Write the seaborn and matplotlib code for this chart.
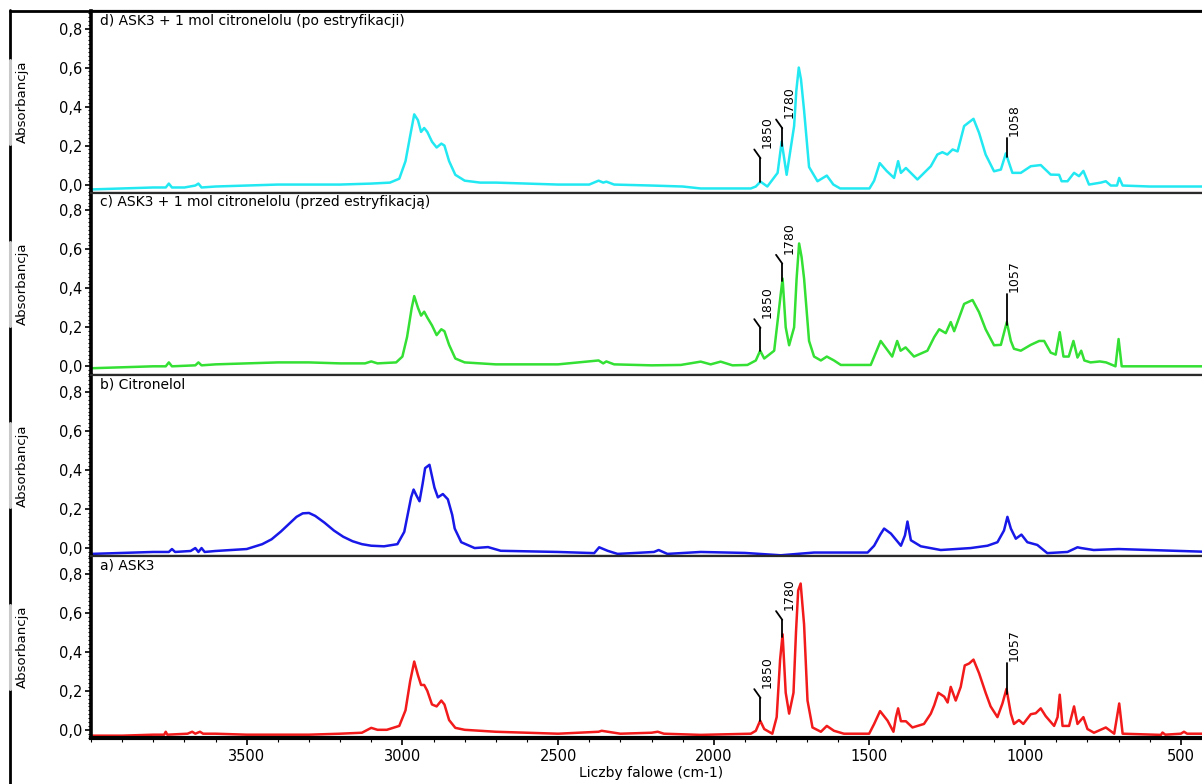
import numpy as np
import pandas as pd
import matplotlib
matplotlib.use("Agg")
import matplotlib.pyplot as plt
import seaborn as sns
from matplotlib.ticker import MultipleLocator, FuncFormatter
from matplotlib.lines import Line2D

sns.set_style("ticks")
plt.rcParams['font.family'] = ['DejaVu Sans']
plt.rcParams['text.color'] = 'black'
plt.rcParams['axes.labelcolor'] = 'black'
plt.rcParams['xtick.color'] = 'black'
plt.rcParams['ytick.color'] = 'black'

# ---------------- data (wavenumber cm-1, absorbance) ----------------
wn_d = [4000, 3900, 3800, 3760, 3750, 3740, 3700, 3665, 3655, 3645, 3600, 3500, 3400, 3300, 3200, 3100,
        3040, 3010, 2990, 2975, 2962, 2950, 2940, 2930, 2920, 2905, 2890, 2875, 2865, 2850, 2830, 2800,
        2750, 2700, 2600, 2500, 2400, 2370, 2355, 2345, 2320, 2200, 2100, 2042, 1881, 1865, 1850, 1828,
        1795, 1782, 1766, 1742, 1735, 1727, 1720, 1710, 1694, 1667, 1637, 1616, 1594, 1500, 1485, 1467,
        1445, 1421, 1408, 1399, 1383, 1346, 1303, 1282, 1266, 1250, 1233, 1217, 1196, 1180, 1166, 1148,
        1127, 1100, 1078, 1062, 1041, 1014, 982, 950, 918, 891, 883, 864, 843, 827, 813, 795, 757, 741,
        725, 705, 698, 687, 600, 500, 400]
ab_d = [-0.025, -0.02, -0.015, -0.015, 0.005, -0.015, -0.015, -0.005, 0.005, -0.015, -0.01, -0.005, 0.0,
        0.0, 0.0, 0.005, 0.01, 0.03, 0.12, 0.25, 0.36, 0.33, 0.27, 0.29, 0.27, 0.22, 0.19, 0.21, 0.2,
        0.12, 0.05, 0.02, 0.01, 0.01, 0.005, 0.0, 0.0, 0.02, 0.01, 0.015, 0.0, -0.005, -0.01, -0.02,
        -0.02, -0.01, 0.015, -0.01, 0.06, 0.22, 0.05, 0.30, 0.48, 0.60, 0.54, 0.38, 0.09, 0.017, 0.046,
        0.0, -0.02, -0.02, 0.02, 0.11, 0.07, 0.034, 0.12, 0.06, 0.085, 0.026, 0.094, 0.154, 0.166, 0.154,
        0.18, 0.17, 0.30, 0.32, 0.337, 0.265, 0.154, 0.068, 0.077, 0.16, 0.06, 0.06, 0.094, 0.1, 0.051,
        0.05, 0.017, 0.017, 0.06, 0.043, 0.07, 0.0, 0.01, 0.017, -0.005, -0.005, 0.034, -0.005, -0.01,
        -0.01, -0.01]

wn_c = [4000, 3900, 3800, 3760, 3750, 3740, 3665, 3655, 3645, 3600, 3500, 3400, 3300, 3200, 3120, 3100,
        3080, 3020, 3000, 2985, 2970, 2962, 2950, 2940, 2930, 2920, 2905, 2890, 2875, 2865, 2850, 2830,
        2800, 2700, 2500, 2370, 2355, 2345, 2320, 2200, 2106, 2042, 2010, 1978, 1940, 1892, 1865, 1851,
        1838, 1806, 1785, 1779, 1769, 1758, 1742, 1734, 1726, 1718, 1710, 1694, 1678, 1656, 1637, 1614,
        1592, 1496, 1464, 1427, 1411, 1400, 1384, 1357, 1314, 1292, 1276, 1255, 1239, 1228, 1196, 1169,
        1148, 1127, 1100, 1078, 1059, 1046, 1036, 1014, 982, 955, 939, 918, 902, 889, 877, 860, 845, 832,
        820, 810, 790, 760, 740, 710, 700, 690, 600, 500, 400]
ab_c = [-0.01, -0.005, 0.0, 0.0, 0.02, 0.0, 0.005, 0.02, 0.005, 0.01, 0.015, 0.02, 0.02, 0.015, 0.015,
        0.025, 0.015, 0.02, 0.05, 0.15, 0.30, 0.36, 0.30, 0.26, 0.28, 0.25, 0.21, 0.16, 0.19, 0.18, 0.11,
        0.04, 0.02, 0.01, 0.01, 0.03, 0.015, 0.025, 0.01, 0.005, 0.007, 0.024, 0.01, 0.024, 0.005, 0.007,
        0.03, 0.08, 0.04, 0.08, 0.37, 0.45, 0.20, 0.108, 0.20, 0.45, 0.63, 0.56, 0.45, 0.13, 0.05, 0.03,
        0.05, 0.03, 0.007, 0.007, 0.13, 0.05, 0.13, 0.08, 0.097, 0.05, 0.08, 0.15, 0.19, 0.17, 0.227,
        0.18, 0.32, 0.34, 0.277, 0.19, 0.108, 0.11, 0.227, 0.13, 0.09, 0.08, 0.11, 0.13, 0.13, 0.07,
        0.06, 0.175, 0.05, 0.05, 0.13, 0.045, 0.08, 0.03, 0.02, 0.025, 0.02, 0.0, 0.14, 0.0, 0.0, 0.0,
        0.0]

wn_b = [4000, 3900, 3800, 3750, 3740, 3730, 3680, 3665, 3655, 3645, 3635, 3600, 3550, 3500, 3470, 3450,
        3420, 3390, 3360, 3340, 3320, 3300, 3280, 3250, 3220, 3190, 3160, 3130, 3100, 3059, 3016, 2994,
        2972, 2964, 2955, 2945, 2935, 2927, 2913, 2897, 2886, 2870, 2854, 2840, 2832, 2811, 2768, 2725,
        2684, 2500, 2384, 2368, 2341, 2309, 2192, 2177, 2149, 2042, 1900, 1785, 1678, 1506, 1485, 1465,
        1453, 1431, 1399, 1386, 1378, 1367, 1335, 1271, 1175, 1121, 1089, 1068, 1057, 1046, 1030, 1012,
        993, 961, 929, 864, 832, 820, 780, 700, 600, 500, 400]
ab_b = [-0.03, -0.025, -0.02, -0.02, -0.005, -0.02, -0.015, 0.0, -0.02, 0.0, -0.02, -0.015, -0.01, -0.005,
        0.01, 0.02, 0.045, 0.085, 0.13, 0.16, 0.178, 0.18, 0.165, 0.13, 0.09, 0.058, 0.035, 0.02, 0.012,
        0.009, 0.02, 0.083, 0.26, 0.30, 0.27, 0.24, 0.33, 0.41, 0.427, 0.31, 0.26, 0.277, 0.25, 0.17,
        0.10, 0.03, 0.0, 0.005, -0.014, -0.02, -0.026, 0.004, -0.014, -0.03, -0.02, -0.01, -0.03, -0.02,
        -0.025, -0.037, -0.023, -0.023, 0.012, 0.07, 0.10, 0.074, 0.012, 0.065, 0.136, 0.04, 0.009,
        -0.01, 0.0, 0.012, 0.03, 0.09, 0.16, 0.10, 0.048, 0.069, 0.03, 0.016, -0.026, -0.02, 0.004, 0.0,
        -0.01, -0.005, -0.01, -0.015, -0.02]

wn_a = [4000, 3900, 3800, 3765, 3760, 3755, 3690, 3675, 3665, 3650, 3640, 3600, 3500, 3300, 3200, 3130,
        3100, 3080, 3050, 3010, 2990, 2975, 2962, 2950, 2940, 2930, 2920, 2905, 2890, 2875, 2865, 2850,
        2830, 2800, 2700, 2500, 2370, 2360, 2340, 2300, 2200, 2180, 2160, 2042, 1881, 1865, 1851, 1838,
        1812, 1798, 1787, 1779, 1769, 1758, 1744, 1736, 1729, 1721, 1710, 1699, 1683, 1656, 1637, 1614,
        1582, 1501, 1485, 1466, 1442, 1423, 1415, 1408, 1399, 1383, 1362, 1325, 1303, 1292, 1279, 1260,
        1249, 1239, 1223, 1207, 1194, 1180, 1166, 1148, 1127, 1111, 1089, 1073, 1060, 1046, 1036, 1020,
        1006, 982, 966, 950, 934, 907, 896, 889, 880, 859, 843, 832, 813, 800, 779, 741, 714, 698, 687,
        564, 559, 550, 500, 490, 480, 400]
ab_a = [-0.03, -0.03, -0.025, -0.025, -0.01, -0.025, -0.02, -0.01, -0.02, -0.01, -0.02, -0.02, -0.025,
        -0.025, -0.02, -0.015, 0.01, 0.0, 0.0, 0.02, 0.1, 0.25, 0.35, 0.28, 0.23, 0.23, 0.2, 0.13, 0.12,
        0.15, 0.13, 0.05, 0.01, 0.0, -0.01, -0.02, -0.01, -0.005, -0.01, -0.02, -0.015, -0.01, -0.02,
        -0.026, -0.02, -0.005, 0.047, 0.004, -0.02, 0.065, 0.36, 0.49, 0.19, 0.083, 0.19, 0.50, 0.714,
        0.75, 0.54, 0.15, 0.012, -0.01, 0.02, -0.005, -0.02, -0.02, 0.03, 0.096, 0.047, -0.01, 0.065,
        0.11, 0.044, 0.044, 0.012, 0.03, 0.083, 0.126, 0.19, 0.17, 0.14, 0.22, 0.15, 0.22, 0.33, 0.34,
        0.36, 0.29, 0.19, 0.12, 0.065, 0.135, 0.21, 0.083, 0.03, 0.05, 0.03, 0.08, 0.085, 0.11, 0.07,
        0.02, 0.065, 0.18, 0.02, 0.02, 0.12, 0.03, 0.065, 0.004, -0.015, 0.012, -0.02, 0.135, -0.02,
        -0.026, -0.014, -0.025, -0.02, -0.01, -0.02, -0.02]

titles = ["d) ASK3 + 1 mol citronelolu (po estryfikacji)",
          "c) ASK3 + 1 mol citronelolu (przed estryfikacją)",
          "b) Citronelol",
          "a) ASK3"]
colors = ["#22e8f2", "#33e033", "#1818e8", "#f21a1a"]
peaks_d = [1850, 1780, 1058]
peaks_c = [1850, 1780, 1057]
peaks_b = []
peaks_a = [1850, 1780, 1057]
y_ticks = [0.0, 0.2, 0.4, 0.6, 0.8]
x_ticks = [3500, 3000, 2500, 2000, 1500, 1000, 500]
ylabel = "Absorbancja"
xlabel = "Liczby falowe (cm-1)"

series = [(wn_d, ab_d, peaks_d), (wn_c, ab_c, peaks_c), (wn_b, ab_b, peaks_b), (wn_a, ab_a, peaks_a)]

# ---------------- layout ----------------
W, H = 1202, 784
fig = plt.figure(figsize=(W / 100, H / 100), dpi=100)
left_px, right_px = 91, 1212
top_px, bottom_px = 11, 738
ph = (bottom_px - top_px) / 4

comma = FuncFormatter(lambda v, p: f"{v:.1f}".replace(".", ","))

# outer frame (left + top)
fig.add_artist(Line2D([10 / W, 10 / W], [0, 1 - 10 / H], transform=fig.transFigure, color="black", lw=2))
fig.add_artist(Line2D([10 / W, 1], [1 - 10.5 / H, 1 - 10.5 / H], transform=fig.transFigure, color="black", lw=2))

stems = {1850: (0.12, True), 1780: (0.09, True), 1058: (0.10, False), 1057: (0.16, False)}

for i, ((wn, ab, peaks), title, col) in enumerate(zip(series, titles, colors)):
    ytop = top_px + i * ph
    ax = fig.add_axes([left_px / W, 1 - (ytop + ph) / H, (right_px - left_px) / W, ph / H])
    df = pd.DataFrame({"wn": wn, "ab": ab})
    sns.lineplot(data=df, x="wn", y="ab", ax=ax, color=col, lw=1.8, sort=False, estimator=None)
    ax.set_xlim(4000, 400)
    ax.set_ylim(-0.042, 0.89)
    ax.set_xlabel("")
    ax.set_ylabel("")
    ax.set_yticks(y_ticks)
    ax.yaxis.set_major_formatter(comma)
    ax.yaxis.set_minor_locator(MultipleLocator(0.02))
    ax.tick_params(axis="y", which="major", direction="out", length=4, width=1.2, labelsize=10.5, pad=2)
    ax.tick_params(axis="y", which="minor", direction="out", length=2, width=0.8)
    ax.spines["left"].set_linewidth(2.6)
    ax.spines["left"].set_color("black")
    ax.spines["top"].set_linewidth(1.6)
    ax.spines["top"].set_color("#2a2a2a")
    ax.spines["right"].set_visible(False)
    if i < 3:
        ax.spines["bottom"].set_linewidth(1.6)
        ax.spines["bottom"].set_color("#2a2a2a")
        ax.tick_params(axis="x", which="both", bottom=False, labelbottom=False)
    else:
        ax.spines["bottom"].set_linewidth(3)
        ax.spines["bottom"].set_color("black")
        ax.set_xticks(x_ticks)
        ax.xaxis.set_minor_locator(MultipleLocator(100))
        ax.tick_params(axis="x", which="major", direction="out", length=5, width=1.2, labelsize=10.5, pad=3)
        ax.tick_params(axis="x", which="minor", direction="out", length=3, width=0.8)
        ax.set_xlabel(xlabel, fontsize=10, labelpad=1, color="black")
    ax.text(0.008, 0.985, title, transform=ax.transAxes, ha="left", va="top", fontsize=10, color="black")

    # peak markers
    xs = np.array(wn[::-1], dtype=float)
    ys = np.array(ab[::-1], dtype=float)
    for pk in peaks:
        y0 = float(np.interp(pk, xs, ys))
        stem, slant = stems[pk]
        ax.plot([pk, pk], [y0, y0 + stem], color="black", lw=1.3, zorder=5)
        ytxt = y0 + stem + 0.01
        if slant:
            ax.plot([pk, pk + 20], [y0 + stem, y0 + stem + 0.045], color="black", lw=1.3, zorder=5)
            ytxt = y0 + stem + 0.05
        ax.text(pk - 22, ytxt, str(pk), rotation=90, ha="center", va="bottom", fontsize=9, zorder=6,
                color="black")

    # y label + grey bracket
    cy = 1 - (ytop + ph / 2) / H
    fig.text(22 / W, cy, ylabel, rotation=90, ha="center", va="center", fontsize=9.5, color="black")
    fig.add_artist(Line2D([10 / W, 10 / W], [cy - 42 / H, cy + 42 / H], transform=fig.transFigure,
                          color="#c8c8c8", lw=2.2))

fig.savefig("out.png", dpi=100)
